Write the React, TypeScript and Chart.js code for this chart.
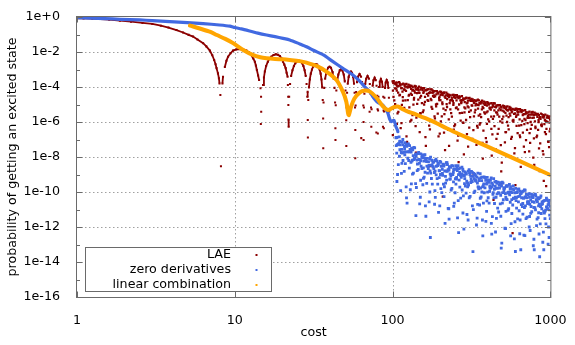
import React, { useEffect, useRef } from 'react';
import { Chart, registerables } from 'chart.js';

Chart.register(...registerables);

// ---------- axes ----------
const xTickValues = [1, 10, 100, 1000];
const xTickLabels = ['1', '10', '100', '1000'];
const yTickValues = [1, 1e-2, 1e-4, 1e-6, 1e-8, 1e-10, 1e-12, 1e-14, 1e-16];
const yTickLabels = ['1e+0', '1e-2', '1e-4', '1e-6', '1e-8', '1e-10', '1e-12', '1e-14', '1e-16'];
const yMinorTickValues = [1e-1, 1e-3, 1e-5, 1e-7, 1e-9, 1e-11, 1e-13, 1e-15];

const seriesNames = ['LAE', 'zero derivatives', 'linear combination'];
const xTitle = 'cost';
const yTitle = 'probability of getting an excited state';

// ---------- LAE ----------
const laeLobes: [number, number][] = [
  [1, 0.85], [1.1, 0.83], [1.25, 0.8], [1.4, 0.76], [1.6, 0.7], [1.87, 0.62], [2.2, 0.54], [2.6, 0.46],
  [3.0, 0.4], [3.4, 0.32], [3.8, 0.25], [4.27, 0.18], [4.7, 0.13], [5.1, 0.095], [5.44, 0.076], [5.8, 0.052],
  [6.3, 0.032], [6.6, 0.021], [6.95, 0.012], [7.2, 0.0065], [7.4, 0.0035], [7.55, 0.002], [7.66, 0.0012],
  [7.82, 6e-4], [7.93, 3.2e-4], [8.0, 1.6e-4], [8.1, 3.5e-5], [8.17, 3e-9], [8.35, 1.6e-4], [8.42, 3.9e-4],
  [8.65, 1.4e-3], [8.85, 3.2e-3], [9.06, 5.4e-3], [9.4, 8.5e-3], [9.75, 0.012], [10.2, 0.014], [10.75, 0.0148],
  [11.3, 0.014], [11.85, 0.012], [12.3, 0.0095], [12.7, 0.0068], [13.1, 0.0042], [13.4, 0.0028], [13.6, 1.7e-3],
  [13.8, 9.3e-4], [14.05, 4.6e-4], [14.25, 2.5e-4], [14.55, 8.5e-5], [14.62, 7.7e-7], [14.67, 2.8e-5], [14.7, 3.9e-6],
  [15.1, 1.3e-4], [15.3, 3.5e-4], [15.5, 7.6e-4], [15.8, 1.6e-3], [16.2, 2.8e-3], [16.6, 4.2e-3], [17.0, 5.4e-3],
  [17.6, 6.7e-3], [18.2, 7.4e-3], [18.8, 6.9e-3], [19.3, 5.9e-3], [19.8, 4.3e-3], [20.2, 2.8e-3], [20.6, 1.9e-3],
  [21.0, 1.2e-3], [21.3, 6.5e-4], [21.6, 3.9e-4], [21.7, 1.3e-4], [21.8, 2.8e-5], [21.85, 9.3e-6], [21.9, 1.4e-6],
  [21.95, 5.4e-7], [22.1, 2.8e-5], [22.4, 1.5e-4], [22.75, 4.3e-4], [23.2, 9.1e-4], [23.7, 1.6e-3], [24.2, 2.3e-3],
  [24.9, 3.0e-3], [25.45, 3.2e-3], [26.0, 3.0e-3], [26.7, 2.3e-3], [27.2, 1.6e-3], [27.7, 9.1e-4], [28.15, 4.3e-4],
  [28.5, 1.5e-4], [28.8, 2.8e-5], [28.95, 5.4e-5], [29.0, 1.3e-6], [29.05, 1.3e-7],
  [29.22, 1.8e-5], [29.51, 9.5e-5], [29.88, 2.7e-4], [30.31, 5.8e-4], [30.83, 1.0e-3], [31.41, 1.5e-3], [32.07, 1.9e-3],
  [32.65, 2.0e-3], [33.23, 1.9e-3], [33.89, 1.5e-3], [34.48, 1.0e-3], [34.99, 5.8e-4], [35.42, 2.7e-4], [35.79, 9.5e-5],
  [36.08, 1.8e-5], [36.3, 1.6e-6], [36.35, 3.2e-8],
  [36.51, 1.3e-5], [36.87, 8.9e-5], [37.37, 3.0e-4], [38.08, 7.2e-4], [39.0, 1.26e-3], [39.85, 1.45e-3], [40.7, 1.26e-3],
  [41.63, 7.2e-4], [42.34, 3.0e-4], [42.83, 8.9e-5], [43.19, 1.3e-5], [43.4, 4.4e-7], [43.45, 9.3e-8],
  [43.63, 9.1e-6], [44.0, 6.3e-5], [44.53, 2.1e-4], [45.28, 5.1e-4], [46.25, 8.9e-4], [47.15, 1.02e-3], [48.05, 8.9e-4],
  [49.03, 5.1e-4], [49.78, 2.1e-4], [50.3, 6.3e-5], [50.68, 9.1e-6], [50.85, 1.26e-6], [50.9, 4.3e-8],
  [51.11, 6.8e-6], [51.47, 4.7e-5], [51.97, 1.55e-4], [52.68, 3.8e-4], [53.6, 6.6e-4], [54.45, 7.6e-4], [55.3, 6.6e-4],
  [56.23, 3.8e-4], [56.94, 1.55e-4], [57.43, 4.7e-5], [57.79, 6.8e-6], [58.0, 8.5e-9], [58.05, 3.5e-7],
  [58.3, 8.7e-6], [58.75, 5.2e-5], [59.5, 1.9e-4], [60.4, 3.9e-4], [61.75, 5.5e-4], [63.1, 3.9e-4], [63.3, 1.2e-7],
  [64.0, 1.9e-4], [64.75, 5.2e-5], [65.2, 8.7e-6], [65.45, 1.0e-6], [65.5, 9.3e-8],
  [65.81, 6.8e-6], [66.28, 4.1e-5], [67.06, 1.5e-4], [68.0, 3.0e-4], [69.4, 4.3e-4], [70.8, 3.0e-4], [71.5, 3.9e-6],
  [71.74, 1.5e-4], [72.52, 4.1e-5], [72.99, 6.8e-6], [73.3, 5.4e-7],
  [73.59, 5.4e-6], [74.03, 3.2e-5], [74.76, 1.17e-4], [75.64, 2.4e-4], [76.95, 3.4e-4], [78.26, 2.4e-4], [78.9, 2.5e-7],
  [79.14, 1.17e-4], [79.87, 3.2e-5], [80.31, 5.4e-6], [80.6, 2.2e-7],
  [80.9, 4.6e-6], [81.34, 2.8e-5], [82.08, 1.0e-4], [82.97, 2.0e-4], [84.3, 2.9e-4], [85.63, 2.0e-4], [86.52, 1.0e-4],
  [86.9, 5.4e-7], [87.26, 2.8e-5], [87.7, 4.6e-6], [88.0, 4.4e-7],
  [88.3, 4.0e-6], [88.75, 2.4e-5], [89.5, 8.7e-5], [90.4, 1.8e-4], [91.75, 2.5e-4], [93.1, 1.8e-4], [94.0, 8.7e-5],
  [94.75, 2.4e-5], [95.2, 4.0e-6],
];

const laeScatter: [number, number][] = [
  [100, 2.1e-4], [100.5, 6.3e-5], [99.5, 5.6e-6], [100.4, 1.8e-7],
  [102, 1.6e-4], [102.5, 1.7e-5], [105, 1.8e-4], [105.5, 8.1e-5],
  [107, 1.1e-4], [107.5, 3.1e-6], [106.5, 7.8e-7], [110, 1.9e-4], [110.5, 3.3e-5],
  [112, 1.2e-4], [112.5, 4.5e-7], [115, 1.4e-4], [115.5, 5.4e-5], [114.5, 9.5e-6],
  [118, 7.2e-5], [118.5, 6.5e-6], [120, 1.4e-4], [120.5, 1.7e-5],
  [123, 1.05e-4], [123.5, 7.4e-8], [122.5, 1.5e-7], [126, 1.35e-4], [126.5, 3.2e-5],
  [129, 1.0e-4], [129.5, 1.07e-6], [132, 1.15e-4], [132.5, 3.6e-5], [131.5, 1.3e-6],
  [135, 6.9e-5], [135.5, 9.8e-6], [138, 1.17e-4], [138.5, 4.7e-5],
  [141, 7.4e-5], [141.5, 1.8e-6], [140.5, 1.8e-8], [145, 8.9e-5], [145.5, 1.9e-5],
  [148, 4.6e-5], [148.5, 2.6e-7], [151, 9.1e-5], [151.5, 3.1e-5], [150.5, 3.1e-6],
  [155, 6.6e-5], [155.5, 3.7e-6], [158, 8.5e-5], [158.5, 1.0e-5],
  [162, 6.5e-5], [162.5, 4.3e-8], [161.5, 1.35e-7], [166, 7.2e-5], [166.5, 1.8e-5],
  [170, 4.4e-5], [170.5, 6.2e-7], [174, 7.4e-5], [174.5, 2.1e-5], [173.5, 3.0e-9],
  [178, 4.7e-5], [178.5, 5.6e-6], [182, 5.6e-5], [182.5, 2.7e-5],
  [186, 2.9e-5], [186.5, 1.0e-6], [185.5, 1.6e-6], [191, 5.8e-5], [191.5, 1.1e-5],
  [195, 4.2e-5], [195.5, 1.5e-7], [200, 5.4e-5], [201, 1.8e-5], [199, 2.2e-7],
  [204, 4.1e-5], [205, 2.1e-6], [208, 5.4e-11], [209, 4.6e-5], [210, 5.8e-6],
  [214, 2.8e-5], [215, 2.5e-8], [213, 2.8e-6], [219, 4.7e-5], [220, 1.05e-5],
  [224, 3.0e-5], [225, 3.5e-7], [229, 3.5e-5], [230, 1.2e-5], [228, 4.3e-8],
  [234, 1.8e-5], [235, 3.2e-6], [240, 3.6e-5], [241, 1.55e-5],
  [245, 2.6e-5], [246, 5.9e-7], [244, 3.7e-7], [251, 3.4e-5], [252, 6.3e-6],
  [257, 2.6e-5], [258, 8.5e-8], [263, 2.9e-5], [264, 1.0e-5], [262, 5.1e-9],
  [269, 1.7e-5], [270, 1.2e-6], [275, 3.0e-5], [276, 3.3e-6],
  [282, 1.9e-5], [283, 1.4e-8], [281, 8.9e-7], [288, 2.2e-5], [289, 6.0e-6],
  [295, 1.15e-5], [296, 2.0e-7], [302, 2.3e-5], [303, 6.9e-6], [301, 3.9e-8],
  [309, 1.7e-5], [310, 1.9e-6], [316, 2.1e-5], [317, 8.9e-6],
  [324, 1.6e-5], [325, 3.4e-7], [323, 8.5e-10], [331, 1.8e-5], [332, 3.6e-6],
  [339, 1.1e-5], [340, 4.9e-8], [347, 1.9e-5], [348, 5.9e-6], [346, 4.7e-7],
  [355, 1.2e-5], [356, 7.1e-7], [363, 1.4e-5], [364, 1.9e-6],
  [372, 7.2e-6], [373, 8.1e-9], [371, 6.5e-8], [380, 1.45e-5], [381, 3.5e-6],
  [389, 1.05e-5], [390, 1.2e-7], [398, 1.35e-5], [400, 4.0e-6], [396, 7.9e-7],
  [407, 1.0e-5], [409, 1.07e-6], [417, 1.15e-5], [419, 5.1e-6],
  [427, 6.9e-6], [429, 1.95e-7], [425, 1.2e-8], [437, 1.2e-5], [439, 2.1e-6], [436, 3.5e-11],
  [447, 7.4e-6], [449, 2.8e-8], [457, 8.9e-6], [459, 3.4e-6], [455, 1.07e-7],
  [468, 4.6e-6], [470, 4.1e-7], [479, 9.1e-6], [481, 1.1e-6],
  [490, 6.6e-6], [492, 4.7e-9], [488, 1.5e-9], [495, 3.2e-10], [501, 8.5e-6], [503, 2.0e-6],
  [513, 6.5e-6], [515, 6.8e-8], [525, 7.2e-6], [527, 2.3e-6], [523, 2.6e-7],
  [537, 4.4e-6], [539, 6.2e-7], [550, 7.4e-6], [552, 3.0e-6],
  [562, 4.7e-6], [564, 1.1e-7], [560, 1.1e-8], [575, 5.6e-6], [577, 1.2e-6], [576, 4.4e-13],
  [589, 2.9e-6], [591, 1.6e-8], [603, 5.8e-6], [606, 1.95e-6], [600, 2.5e-10],
  [617, 4.2e-6], [620, 2.3e-7], [631, 5.4e-6], [634, 6.3e-7],
  [646, 4.1e-6], [649, 2.7e-9], [643, 1.35e-7], [661, 4.6e-6], [664, 1.15e-6],
  [676, 2.8e-6], [679, 3.9e-8], [692, 4.7e-6], [695, 1.3e-6], [689, 1.9e-8],
  [708, 3.0e-6], [711, 3.5e-7], [724, 3.5e-6], [727, 1.7e-6],
  [741, 1.8e-6], [744, 6.5e-8], [738, 2.3e-7], [759, 3.6e-6], [762, 6.9e-7],
  [776, 2.6e-6], [779, 9.3e-9], [794, 3.4e-6], [798, 1.1e-6], [790, 3.5e-9],
  [813, 2.6e-6], [817, 1.35e-7], [832, 2.9e-6], [836, 3.6e-7],
  [851, 1.7e-6], [855, 1.55e-9], [847, 3.1e-8], [871, 3.0e-6], [875, 6.6e-7],
  [891, 1.9e-6], [895, 2.2e-8], [912, 2.2e-6], [916, 7.6e-7], [908, 4.3e-10],
  [933, 1.15e-6], [937, 2.0e-7], [940, 2.2e-10], [955, 2.3e-6], [959, 9.8e-7],
  [977, 1.7e-6], [981, 3.7e-8], [973, 7.4e-8], [1000, 2.1e-6], [998, 4.0e-7],
];

const laeScatterDense: [number, number][] = [
  [101, 1.74e-4], [101.3, 2.75e-5], [103.5, 8.3e-5], [103.8, 1.05e-5], [106, 1.26e-4], [106.3, 6.3e-5],
  [108.4, 4.8e-5], [108.7, 3.8e-6], [111, 1.6e-4], [111.3, 3.6e-5], [113.5, 8.7e-5], [113.8, 8.7e-7],
  [116, 2.6e-5], [116.3, 1.66e-5], [119, 1.26e-4], [119.3, 7.1e-5], [121.6, 6.0e-5], [121.9, 4.8e-6],
  [124.5, 9.1e-5], [124.8, 1.8e-5], [127.4, 3.5e-5], [127.7, 6.9e-6], [130.3, 1.17e-4], [130.6, 4.2e-5],
  [133.4, 6.3e-5], [133.7, 2.5e-6], [136.5, 1.9e-5], [136.8, 2.4e-5], [139.6, 9.1e-5], [139.9, 5.8e-7],
  [142.9, 4.4e-5], [143.2, 1.1e-5], [146.2, 6.6e-5], [146.5, 4.7e-5], [149.6, 2.5e-5], [149.9, 3.2e-6],
  [153.1, 8.5e-5], [153.4, 1.2e-5], [156.7, 4.6e-5], [157, 4.6e-6], [160.3, 1.4e-5], [160.6, 2.75e-5],
  [164, 6.6e-5], [164.4, 1.66e-6], [168, 3.2e-5], [168.4, 1.6e-5], [172, 4.8e-5], [172.4, 3.8e-7],
  [176, 1.8e-5], [176.4, 7.2e-6], [180, 6.2e-5], [180.4, 3.1e-5], [184, 3.3e-5], [184.4, 2.1e-6],
  [188.4, 1.0e-5], [188.8, 7.9e-6], [192.8, 4.8e-5], [193.2, 3.0e-6], [197.2, 2.3e-5], [197.6, 1.8e-5],
  [201.8, 3.5e-5], [202.2, 1.1e-6], [206.5, 1.3e-5], [207, 1.05e-5], [211.3, 4.5e-5], [211.8, 2.5e-7],
  [216.3, 2.4e-5], [216.8, 4.8e-6], [221.3, 7.2e-6], [221.8, 2.0e-5], [226.5, 3.5e-5], [227, 1.4e-6],
  [231.7, 1.66e-5], [232.2, 5.2e-6], [237.1, 2.5e-5], [237.6, 2.0e-6], [242.7, 9.5e-6], [243.2, 1.2e-5],
  [248.3, 3.2e-5], [248.8, 7.2e-7], [254.1, 1.74e-5], [254.6, 6.9e-6], [260, 5.2e-6], [260.5, 1.66e-7],
  [266.1, 2.5e-5], [266.6, 3.2e-6], [272.3, 1.2e-5], [272.8, 1.35e-5], [278.6, 1.8e-5], [279.1, 9.1e-7],
  [285.1, 6.9e-6], [285.6, 3.5e-6], [291.7, 2.3e-5], [292.2, 1.3e-6], [298.5, 1.26e-5], [299, 7.9e-6],
  [305.5, 3.8e-6], [306, 4.8e-7], [312.6, 1.8e-5], [313.1, 4.6e-6], [319.9, 8.7e-6], [320.4, 1.1e-7],
  [327.3, 1.3e-5], [327.8, 2.1e-6], [335, 5.0e-6], [335.5, 8.9e-6], [342.8, 1.7e-5], [343.3, 6.0e-7],
  [350.8, 9.1e-6], [351.3, 2.3e-6], [358.9, 2.75e-6], [359.4, 8.7e-7], [367.3, 1.3e-5], [367.8, 5.2e-6],
  [375.8, 6.3e-6], [376.3, 3.2e-7], [384.6, 9.5e-6], [385.1, 3.0e-6], [393.6, 3.6e-6], [394.1, 7.2e-8],
  [402.7, 1.23e-5], [403.5, 1.4e-6], [412.1, 6.6e-6], [412.9, 5.9e-6], [421.7, 2.0e-6], [422.5, 4.0e-7],
  [431.5, 9.5e-6], [432.3, 1.5e-6], [441.6, 4.6e-6], [442.4, 5.8e-7], [451.9, 6.9e-6], [452.7, 3.5e-6],
  [462.4, 2.6e-6], [463.2, 2.1e-7], [473.2, 8.9e-6], [474, 2.0e-6], [484.2, 4.8e-6], [485, 4.8e-8],
  [495.5, 1.45e-6], [496.3, 9.1e-7], [507, 6.9e-6], [507.8, 3.9e-6], [518.8, 3.3e-6], [519.6, 2.6e-7],
  [530.9, 5.0e-6], [531.7, 1.0e-6], [543.3, 1.9e-6], [544.1, 3.8e-7], [555.9, 6.5e-6], [556.7, 2.3e-6],
  [568.9, 3.5e-6], [569.7, 1.4e-7], [582.1, 1.05e-6], [582.9, 1.3e-6], [595.7, 5.0e-6], [596.5, 3.2e-8],
  [609.5, 2.4e-6], [610.5, 6.0e-7], [623.7, 3.6e-6], [624.7, 2.6e-6], [638.3, 1.4e-6], [639.3, 1.74e-7],
  [653.1, 4.7e-6], [654.1, 6.6e-7], [668.3, 2.5e-6], [669.3, 2.5e-7], [683.9, 7.6e-7], [684.9, 1.5e-6],
  [699.8, 3.6e-6], [700.8, 9.1e-8], [716.1, 1.74e-6], [717.1, 8.7e-7], [732.8, 2.6e-6], [733.8, 2.1e-8],
  [749.9, 1.0e-6], [750.9, 4.0e-7], [767.4, 3.4e-6], [768.4, 1.7e-6], [785.2, 1.8e-6], [786.2, 1.15e-7],
  [803.5, 5.5e-7], [804.5, 4.4e-7], [822.2, 2.6e-6], [823.2, 1.66e-7], [841.4, 1.26e-6], [842.4, 1.0e-6],
  [861, 1.9e-6], [862, 6.0e-8], [881, 7.2e-7], [882, 5.8e-7], [901.6, 2.45e-6], [902.6, 1.4e-8],
  [922.6, 1.3e-6], [923.6, 2.6e-7], [944, 4.0e-7], [945, 1.1e-6], [966, 1.9e-6], [967, 7.6e-8],
  [988.6, 9.1e-7], [989.6, 2.9e-7],
];

const laeScatterTop: [number, number][] = [
  [101.7, 2.16e-4], [104.1, 1.46e-4], [106.5, 1.76e-4], [109.1, 1.14e-4], [111.6, 1.43e-4], [114.2, 8.6e-5],
  [116.8, 1.57e-4], [119.5, 1.04e-4], [122.3, 1.5e-4], [125.2, 1.01e-4], [128.1, 1.22e-4], [131.1, 7.9e-5],
  [134.1, 9.9e-5], [137.3, 6.0e-5], [140.4, 1.08e-4], [143.7, 7.2e-5], [147, 1.04e-4], [150.5, 7.0e-5],
  [154, 8.4e-5], [157.6, 5.4e-5], [161.3, 6.8e-5], [165, 4.1e-5], [168.9, 7.5e-5], [172.8, 5.0e-5],
  [176.8, 7.2e-5], [180.9, 4.8e-5], [185.2, 5.8e-5], [189.5, 3.8e-5], [193.9, 4.7e-5], [198.4, 2.85e-5],
  [203, 5.2e-5], [207.7, 3.4e-5], [212.5, 5.0e-5], [217.5, 3.35e-5], [222.6, 4.0e-5], [227.8, 2.6e-5],
  [233.1, 3.3e-5], [238.5, 1.97e-5], [244.1, 3.6e-5], [249.8, 2.37e-5], [255.6, 3.4e-5], [261.5, 2.3e-5],
  [267.6, 2.8e-5], [273.9, 1.8e-5], [280.2, 2.26e-5], [286.7, 1.36e-5], [293.4, 2.48e-5], [300.3, 1.64e-5],
  [307.3, 2.37e-5], [314.4, 1.6e-5], [321.7, 1.93e-5], [329.2, 1.24e-5], [336.9, 1.57e-5], [344.7, 9.4e-6],
  [352.7, 1.72e-5], [361, 1.14e-5], [369.4, 1.64e-5], [378, 1.11e-5], [386.8, 1.33e-5], [395.8, 8.6e-6],
  [405, 1.08e-5], [414.5, 6.5e-6], [424.2, 1.19e-5], [434, 7.9e-6], [444.1, 1.14e-5], [454.5, 7.7e-6],
  [465.1, 9.2e-6], [475.9, 6.0e-6], [486.9, 7.5e-6], [498.3, 4.5e-6], [509.9, 8.2e-6], [521.8, 5.4e-6],
  [533.9, 7.9e-6], [546.3, 5.3e-6], [559.1, 6.4e-6], [572.1, 4.1e-6], [585.4, 5.2e-6], [599, 3.1e-6],
  [613.1, 5.7e-6], [627.3, 3.8e-6], [642, 5.4e-6], [656.9, 3.7e-6], [672.2, 4.4e-6], [687.9, 2.85e-6],
  [703.8, 3.6e-6], [720.2, 2.16e-6], [737, 3.9e-6], [754.2, 2.6e-6], [771.8, 3.8e-6], [789.7, 2.54e-6],
  [808.1, 3.05e-6], [826.9, 1.97e-6], [846.3, 2.48e-6], [866, 1.5e-6], [886.1, 2.72e-6], [906.8, 1.8e-6],
  [927.9, 2.6e-6], [949.5, 1.76e-6], [971.6, 2.1e-6], [994.2, 1.36e-6],
];

// ---------- zero derivatives ----------
const zeroDerivCurve: [number, number][] = [
  [1, 0.93], [1.5, 0.81], [1.87, 0.74], [2.5, 0.68], [3, 0.62], [3.87, 0.54], [5, 0.48], [6.3, 0.42],
  [8, 0.35], [9.3, 0.3], [10, 0.25], [11, 0.21], [12.4, 0.16], [14, 0.12], [15.9, 0.093], [18, 0.075],
  [20.2, 0.06], [22.3, 0.049], [25.8, 0.029], [28.5, 0.02], [32, 0.0117], [36.4, 6.8e-3], [41.9, 2.8e-3],
  [48.4, 1.17e-3], [56, 4.9e-4], [61.8, 2.2e-4], [66.5, 1.05e-4], [71.5, 5.4e-5], [75, 2.8e-5], [80, 1.4e-5],
  [87, 8.9e-6], [93, 3.5e-6], [96, 1.4e-6], [98, 1.05e-6], [102, 1.26e-6], [105, 5.4e-7], [108, 2.8e-7],
];

const zeroDerivScatter: [number, number][] = [
  [105, 1.26e-7], [105.5, 4.5e-8], [107, 5.0e-8], [107.5, 1.0e-9], [106.5, 4.0e-10],
  [110, 1.4e-7], [110.5, 1.1e-8], [112, 4.9e-8], [112.5, 1.2e-10],
  [115, 6.8e-8], [115.5, 1.7e-8], [114.5, 4.3e-9], [118, 1.9e-8], [118.5, 1.5e-9],
  [120, 6.6e-8], [120.5, 4.2e-9], [123, 4.1e-8], [123.5, 2.3e-11], [122.5, 4.6e-11],
  [126, 5.6e-8], [126.5, 6.3e-9], [129, 2.7e-8], [129.5, 1.35e-10],
  [132, 3.2e-8], [132.5, 5.8e-9], [131.5, 2.9e-10], [135, 1.2e-8], [135.5, 1.2e-9],
  [138, 3.3e-8], [138.5, 8.3e-9], [141, 1.1e-8], [141.5, 1.8e-10], [140.5, 4.5e-12],
  [145, 1.55e-8], [145.5, 1.95e-9], [148, 4.3e-9], [148.5, 2.1e-11],
  [151, 1.5e-8], [151.5, 3.0e-9], [150.5, 4.7e-10], [155, 9.1e-9], [155.5, 2.6e-10],
  [158, 1.26e-8], [158.5, 7.1e-10], [162, 6.5e-9], [162.5, 4.1e-12], [161.5, 1.6e-11],
  [166, 8.3e-9], [166.5, 1.2e-9], [170, 3.4e-9], [170.5, 2.7e-11],
  [174, 9.8e-9], [174.5, 1.2e-9], [173.5, 2.5e-13], [178, 3.5e-9], [178.5, 2.8e-10],
  [182, 5.2e-9], [182.5, 2.1e-9], [186, 1.55e-9], [186.5, 4.9e-11], [185.5, 1.2e-10],
  [191, 5.8e-9], [191.5, 5.8e-10], [195, 3.8e-9], [195.5, 6.8e-12],
  [200, 5.6e-9], [201, 1.0e-9], [199, 1.6e-11], [204, 3.0e-9], [205, 9.3e-11],
  [209, 3.9e-9], [210, 2.8e-10], [214, 1.6e-9], [215, 1.6e-12], [213, 2.0e-10],
  [219, 4.8e-9], [220, 4.8e-10], [224, 1.8e-9], [225, 1.15e-11],
  [229, 2.8e-9], [230, 5.5e-10], [228, 2.8e-12], [234, 8.1e-10], [235, 1.3e-10],
  [240, 3.1e-9], [241, 9.8e-10], [245, 2.1e-9], [246, 2.3e-11], [244, 1.5e-11],
  [251, 3.2e-9], [252, 2.8e-10], [257, 1.7e-9], [258, 3.3e-12],
  [263, 2.1e-9], [264, 4.8e-10], [262, 4.8e-13], [269, 8.9e-10], [270, 4.5e-11],
  [275, 2.6e-9], [276, 1.3e-10], [282, 9.5e-10], [283, 7.6e-13], [281, 6.0e-11],
  [288, 1.4e-9], [289, 2.2e-10], [295, 4.2e-10], [296, 5.2e-12],
  [302, 1.55e-9], [303, 2.5e-10], [301, 2.5e-12], [309, 1.0e-9], [310, 5.6e-11],
  [316, 1.5e-9], [317, 4.2e-10], [324, 7.8e-10], [325, 9.8e-12], [323, 3.9e-14],
  [331, 1.0e-9], [332, 1.1e-10], [339, 4.2e-10], [340, 1.3e-12],
  [347, 1.2e-9], [348, 1.95e-10], [346, 1.95e-11], [355, 4.5e-10], [356, 1.8e-11],
  [363, 6.6e-10], [364, 5.2e-11], [372, 1.95e-10], [373, 3.1e-13], [371, 2.5e-12],
  [380, 7.2e-10], [381, 9.1e-11], [389, 4.7e-10], [390, 2.1e-12],
  [398, 6.9e-10], [400, 9.8e-11], [396, 3.1e-11], [407, 3.6e-10], [409, 2.3e-11],
  [417, 4.7e-10], [419, 1.7e-10], [427, 1.95e-10], [429, 3.9e-12], [425, 3.9e-13],
  [437, 5.8e-10], [439, 4.6e-11], [447, 2.1e-10], [449, 5.2e-13],
  [457, 3.1e-10], [459, 7.8e-11], [455, 3.1e-12], [468, 9.1e-11], [470, 7.2e-12],
  [479, 3.4e-10], [481, 2.1e-11], [490, 2.2e-10], [492, 1.2e-13], [488, 6.2e-14],
  [501, 3.2e-10], [503, 3.6e-11], [513, 1.7e-10], [515, 8.5e-13],
  [525, 2.2e-10], [527, 3.9e-11], [523, 7.8e-12], [537, 9.1e-11], [539, 9.1e-12],
  [550, 2.7e-10], [552, 6.8e-11], [562, 9.8e-11], [564, 1.55e-12], [560, 3.1e-13],
  [575, 1.45e-10], [577, 1.8e-11], [589, 4.3e-11], [591, 2.1e-13],
  [603, 1.6e-10], [606, 3.2e-11], [600, 4.0e-14], [617, 1.0e-10], [620, 2.9e-12],
  [631, 1.5e-10], [634, 8.5e-12], [646, 7.9e-11], [649, 5.0e-14], [643, 2.5e-12],
  [661, 1.0e-10], [664, 1.45e-11], [676, 4.3e-11], [679, 3.4e-13],
  [692, 1.26e-10], [695, 1.6e-11], [689, 3.2e-13], [708, 4.6e-11], [711, 3.6e-12],
  [724, 6.8e-11], [727, 2.7e-11], [741, 2.0e-11], [744, 6.3e-13], [738, 4.0e-12],
  [759, 7.4e-11], [762, 7.4e-12], [776, 4.8e-11], [779, 8.5e-14],
  [794, 7.1e-11], [798, 1.26e-11], [790, 5.0e-14], [813, 3.7e-11], [817, 1.2e-12],
  [832, 4.8e-11], [836, 3.4e-12], [851, 2.0e-11], [855, 2.0e-14], [847, 4.0e-13],
  [871, 5.9e-11], [875, 5.9e-12], [891, 2.1e-11], [895, 1.35e-13],
  [912, 3.2e-11], [916, 6.3e-12], [908, 5.0e-14], [933, 9.3e-12], [937, 1.5e-12],
  [955, 3.5e-11], [959, 1.1e-11], [977, 2.2e-11], [981, 2.5e-13], [973, 1.0e-12],
  [1000, 3.3e-11], [998, 3.0e-12],
];

const zeroDerivScatterDense: [number, number][] = [
  [105.9, 1.3e-7], [106.2, 1.66e-8], [108.4, 5.2e-8], [108.7, 3.7e-9], [110.9, 7.4e-8], [111.2, 2.6e-8],
  [113.5, 1.8e-8], [113.8, 1.15e-9], [116.1, 1.0e-7], [116.4, 6.3e-9], [118.9, 4.0e-8], [119.2, 2.8e-8],
  [121.6, 1.95e-8], [121.9, 1.95e-10], [124.5, 5.4e-8], [124.8, 8.5e-9], [127.4, 2.0e-8], [127.7, 2.3e-9],
  [130.3, 2.75e-8], [130.6, 4.9e-9], [133.4, 6.6e-9], [133.7, 1.05e-9], [136.5, 3.5e-8], [136.8, 7.1e-9],
  [139.6, 1.35e-8], [139.9, 3.0e-10], [142.9, 6.6e-9], [143.2, 1.66e-9], [146.2, 1.8e-8], [146.5, 7.2e-9],
  [149.6, 7.1e-9], [149.9, 5.0e-11], [153.1, 9.8e-9], [153.4, 2.2e-9], [156.7, 2.4e-9], [157, 6.0e-10],
  [160.3, 1.35e-8], [160.6, 1.35e-9], [164.1, 5.5e-9], [164.5, 3.1e-10], [167.9, 2.8e-9], [168.3, 2.2e-9],
  [171.8, 8.1e-9], [172.2, 1.0e-10], [175.8, 3.3e-9], [176.2, 5.9e-10], [179.9, 4.9e-9], [180.3, 2.75e-9],
  [184.1, 1.3e-9], [184.5, 2.0e-11], [188.4, 7.6e-9], [188.8, 9.5e-10], [192.8, 3.2e-9], [193.2, 2.8e-10],
  [197.2, 1.66e-9], [197.6, 6.6e-10], [201.8, 4.9e-9], [202.3, 1.55e-10], [206.5, 2.0e-9], [207, 1.15e-9],
  [211.3, 3.0e-9], [211.8, 5.4e-11], [216.3, 7.9e-10], [216.8, 3.2e-10], [221.3, 4.7e-9], [221.8, 1.5e-9],
  [226.5, 2.0e-9], [227, 1.1e-11], [231.7, 1.07e-9], [232.2, 5.4e-10], [237.1, 3.2e-9], [237.6, 1.6e-10],
  [242.7, 1.35e-9], [243.2, 3.8e-10], [248.3, 2.0e-9], [248.8, 9.1e-11], [254.1, 5.4e-10], [254.6, 6.8e-10],
  [260, 3.2e-9], [260.5, 3.2e-11], [266.1, 1.3e-9], [266.6, 1.9e-10], [272.3, 6.8e-10], [272.8, 8.5e-10],
  [278.6, 2.0e-9], [279.1, 6.3e-12], [285.1, 8.3e-10], [285.6, 3.0e-10], [291.7, 1.23e-9], [292.2, 8.7e-11],
  [298.5, 3.2e-10], [299, 2.0e-10], [305.5, 1.9e-9], [306, 4.7e-11], [312.6, 7.8e-10], [313.1, 3.5e-10],
  [319.9, 4.0e-10], [320.4, 1.6e-11], [327.3, 1.17e-9], [327.8, 9.3e-11], [335, 4.9e-10], [335.5, 4.4e-10],
  [342.8, 7.1e-10], [343.3, 3.2e-12], [350.8, 1.9e-10], [351.3, 1.5e-10], [358.9, 1.1e-9], [359.4, 4.4e-11],
  [367.3, 4.5e-10], [367.8, 1.0e-10], [375.8, 2.3e-10], [376.3, 2.3e-11], [384.6, 6.9e-10], [385.1, 1.74e-10],
  [393.6, 2.8e-10], [394.1, 7.9e-12], [402.7, 4.2e-10], [403.5, 4.7e-11], [412.1, 1.1e-10], [412.9, 2.2e-10],
  [421.7, 6.3e-10], [422.5, 1.6e-12], [431.5, 2.6e-10], [432.3, 7.4e-11], [441.6, 1.4e-10], [442.4, 2.2e-11],
  [451.9, 4.0e-10], [452.7, 5.0e-11], [462.4, 1.66e-10], [463.2, 1.2e-11], [473.2, 2.5e-10], [474, 8.7e-11],
  [484.2, 6.5e-11], [485, 4.1e-12], [495.5, 3.7e-10], [496.3, 2.3e-11], [507, 1.55e-10], [507.8, 1.1e-10],
  [518.8, 8.1e-11], [519.6, 8.1e-13], [530.9, 2.3e-10], [531.7, 3.7e-11], [543.3, 9.8e-11], [544.1, 1.1e-11],
  [555.9, 1.45e-10], [556.7, 2.6e-11], [568.9, 3.7e-11], [569.7, 5.9e-12], [582.1, 2.2e-10], [582.9, 4.4e-11],
  [595.7, 9.1e-11], [596.5, 2.0e-12], [609.5, 4.8e-11], [610.5, 1.2e-11], [623.7, 1.4e-10], [624.7, 5.5e-11],
  [638.3, 5.8e-11], [639.3, 4.1e-13], [653.1, 8.5e-11], [654.1, 1.9e-11], [668.3, 2.2e-11], [669.3, 5.5e-12],
  [683.9, 1.3e-10], [684.9, 1.3e-11], [699.8, 5.4e-11], [700.8, 3.0e-12], [716.1, 2.75e-11], [717.1, 2.2e-11],
  [732.8, 8.1e-11], [733.8, 1.0e-12], [749.9, 3.4e-11], [750.9, 6.0e-12], [767.4, 5.0e-11], [768.4, 2.8e-11],
  [785.2, 1.3e-11], [786.2, 2.0e-13], [803.5, 7.6e-11], [804.5, 9.5e-12], [822.2, 3.2e-11], [823.2, 2.8e-12],
  [841.4, 1.6e-11], [842.4, 6.5e-12], [861, 4.8e-11], [862, 1.5e-12], [881, 2.0e-11], [882, 1.1e-11],
  [901.6, 2.9e-11], [902.6, 5.1e-13], [922.6, 7.6e-12], [923.6, 3.0e-12], [944, 4.5e-11], [945, 1.4e-11],
  [966, 1.9e-11], [967, 1.05e-13], [988.6, 9.5e-12], [989.6, 4.8e-12],
];

const zeroDerivScatterTop: [number, number][] = [
  [106.5, 1.29e-7], [109, 5.8e-8], [111.5, 8.1e-8], [114.1, 2.75e-8], [116.8, 4.9e-8], [119.5, 1.35e-8],
  [122.3, 5.2e-8], [125.2, 2.0e-8], [128.1, 4.5e-8], [131.1, 1.9e-8], [134.1, 2.6e-8], [137.3, 8.7e-9],
  [140.4, 1.48e-8], [143.7, 4.0e-9], [147, 1.55e-8], [150.5, 6.0e-9], [154, 1.32e-8], [157.6, 5.8e-9],
  [161.3, 8.3e-9], [165, 3.0e-9], [168.9, 5.5e-9], [172.8, 1.58e-9], [176.8, 6.5e-9], [180.9, 2.7e-9],
  [185.2, 6.3e-9], [189.5, 2.95e-9], [193.9, 4.4e-9], [198.4, 1.62e-9], [203, 3.0e-9], [207.7, 8.9e-10],
  [212.5, 3.7e-9], [217.5, 1.55e-9], [222.6, 3.7e-9], [227.8, 1.78e-9], [233.1, 2.6e-9], [238.5, 1.0e-9],
  [244.1, 1.9e-9], [249.8, 5.8e-10], [255.6, 2.4e-9], [261.5, 9.8e-10], [267.6, 2.3e-9], [273.9, 1.07e-9],
  [280.2, 1.55e-9], [286.7, 5.8e-10], [293.4, 1.07e-9], [300.3, 3.2e-10], [307.3, 1.29e-9], [314.4, 5.4e-10],
  [321.7, 1.26e-9], [329.2, 5.8e-10], [336.9, 8.5e-10], [344.7, 3.2e-10], [352.7, 5.8e-10], [361, 1.7e-10],
  [369.4, 7.1e-10], [378, 2.9e-10], [386.8, 6.8e-10], [395.8, 3.2e-10], [405, 4.7e-10], [414.5, 1.7e-10],
  [424.2, 3.2e-10], [434, 9.3e-11], [444.1, 3.8e-10], [454.5, 1.6e-10], [465.1, 3.7e-10], [475.9, 1.7e-10],
  [486.9, 2.5e-10], [498.3, 9.3e-11], [509.9, 1.7e-10], [521.8, 5.0e-11], [533.9, 2.1e-10], [546.3, 8.5e-11],
  [559.1, 2.0e-10], [572.1, 9.3e-11], [585.4, 1.35e-10], [599, 5.0e-11], [613.1, 9.3e-11], [627.3, 2.75e-11],
  [642, 1.12e-10], [656.9, 4.7e-11], [672.2, 1.1e-10], [687.9, 5.0e-11], [703.8, 7.4e-11], [720.2, 2.75e-11],
  [737, 5.0e-11], [754.2, 1.48e-11], [771.8, 6.2e-11], [789.7, 2.6e-11], [808.1, 5.9e-11], [826.9, 2.75e-11],
  [846.3, 4.1e-11], [866, 1.48e-11], [886.1, 2.75e-11], [906.8, 8.1e-12], [927.9, 3.3e-11], [949.5, 1.38e-11],
  [971.6, 3.2e-11], [994.2, 1.5e-11],
];

// ---------- linear combination ----------
const linComb: [number, number][] = [
  [5.2, 0.32], [6.0, 0.22], [7.0, 0.14], [7.7, 0.093], [8.7, 0.056], [9.75, 0.032], [11.3, 0.013],
  [13.0, 6.8e-3], [14.5, 5.0e-3], [15.9, 4.4e-3], [18, 4.0e-3], [20.2, 3.8e-3], [22.3, 3.5e-3],
  [25.8, 3.0e-3], [28.5, 2.45e-3], [32.9, 1.6e-3], [38.1, 7.6e-4], [44.1, 2.5e-4], [48.4, 5.4e-5],
  [50.9, 1.45e-5], [52.2, 3.2e-6], [52.8, 2.5e-6], [54.6, 7.6e-6], [57.3, 2.2e-5], [61.8, 4.8e-5],
  [66.5, 6.3e-5], [71.5, 5.6e-5], [78.9, 2.5e-5], [86.9, 7.9e-6], [93.3, 4.9e-6], [100.4, 6.6e-6],
  [107.8, 7.6e-6], [116, 5.4e-6], [125, 3.9e-6], [134, 3.2e-6], [148, 2.2e-6], [163, 1.6e-6],
  [190, 8.5e-7], [220, 4.4e-7], [265, 2.0e-7], [400, 3.9e-8], [650, 5.4e-9], [1000, 9.3e-10],
];

const laeColor = '#8b0000';
const zdColor = '#4169e1';
const lcColor = '#ffa500';
const seriesColors = [laeColor, zdColor, lcColor];
const FONT = "'DejaVu Sans', sans-serif";
const FONT_SIZE = 12.67;

const framePlugin = {
  id: 'gnuplotFrame',
  beforeDatasetsDraw(chart: any) {
    const { ctx, chartArea: a, scales } = chart;
    ctx.save();
    ctx.strokeStyle = '#a0a0a0';
    ctx.lineWidth = 1;
    ctx.setLineDash([1.5, 2.5]);
    for (const v of yTickValues) {
      const y = Math.round(scales.y.getPixelForValue(v)) + 0.5;
      if (y <= a.top + 2 || y >= a.bottom - 2) continue;
      ctx.beginPath(); ctx.moveTo(a.left, y); ctx.lineTo(a.right, y); ctx.stroke();
    }
    for (const v of xTickValues) {
      const x = Math.round(scales.x.getPixelForValue(v)) + 0.5;
      if (x <= a.left + 2 || x >= a.right - 2) continue;
      ctx.beginPath(); ctx.moveTo(x, a.top); ctx.lineTo(x, a.bottom); ctx.stroke();
    }
    ctx.restore();
  },
  afterDatasetsDraw(chart: any) {
    const { ctx, chartArea: a, scales } = chart;
    ctx.save();
    ctx.strokeStyle = '#6a6a6a';
    ctx.lineWidth = 1;
    const L = a.left - 0.5, R = a.right + 0.5, T = a.top - 0.5, B = a.bottom + 0.5;
    ctx.strokeRect(L, T, R - L, B - T);
    ctx.beginPath();
    const yt = (v: number, len: number) => {
      const y = Math.round(scales.y.getPixelForValue(v)) + 0.5;
      ctx.moveTo(L, y); ctx.lineTo(L + len, y);
      ctx.moveTo(R, y); ctx.lineTo(R - len, y);
    };
    yTickValues.forEach((v) => yt(v, 6));
    yMinorTickValues.forEach((v) => yt(v, 3.5));
    xTickValues.forEach((v) => {
      const x = Math.round(scales.x.getPixelForValue(v)) + 0.5;
      ctx.moveTo(x, B); ctx.lineTo(x, B - 6);
      ctx.moveTo(x, T); ctx.lineTo(x, T + 6);
    });
    ctx.stroke();

    // legend box (gnuplot style)
    ctx.fillStyle = '#ffffff';
    ctx.fillRect(85.5, 247.5, 186, 44);
    ctx.strokeRect(85.5, 247.5, 186, 44);
    ctx.font = `${FONT_SIZE}px ${FONT}`;
    ctx.textAlign = 'right';
    ctx.textBaseline = 'middle';
    seriesNames.forEach((name, i) => {
      const y = 255 + 15 * i;
      ctx.fillStyle = '#000';
      ctx.fillText(name, 231, y);
      ctx.fillStyle = seriesColors[i];
      ctx.fillRect(255.5, y - 1, 2, 2);
    });
    ctx.restore();
  },
};

export default function App() {
  const ref = useRef<HTMLCanvasElement>(null);
  useEffect(() => {
    document.body.style.margin = '0';
    const canvas = ref.current;
    if (!canvas) return;
    Chart.defaults.font.family = FONT;
    Chart.defaults.font.size = FONT_SIZE;
    const toPts = (arr: [number, number][]) => arr.map(([x, y]) => ({ x, y }));
    const nLobes = laeLobes.length;
    const nCurve = zeroDerivCurve.length;
    const hidden = 'rgba(0,0,0,0)';

    const chart = new Chart(canvas, {
      type: 'line',
      data: {
        datasets: [
          {
            label: seriesNames[2],
            data: toPts(linComb),
            borderColor: lcColor,
            backgroundColor: lcColor,
            borderWidth: 4,
            pointRadius: 0,
            pointHoverRadius: 0,
            tension: 0.3,
            borderCapStyle: 'round',
            borderJoinStyle: 'round',
            order: 0,
          },
          {
            label: seriesNames[1],
            data: toPts([...zeroDerivCurve, ...zeroDerivScatter, ...zeroDerivScatterDense, ...zeroDerivScatterTop]),
            borderColor: zdColor,
            backgroundColor: zdColor,
            borderWidth: 3.2,
            pointStyle: 'rect',
            pointRadius: (c: any) => (c.dataIndex >= nCurve ? 2.0 : 0),
            pointBorderWidth: 0,
            pointHoverRadius: 0,
            tension: 0.2,
            borderCapStyle: 'round',
            borderJoinStyle: 'round',
            order: 1,
            segment: {
              borderColor: (c: any) => (c.p1DataIndex >= nCurve ? hidden : undefined),
            },
          },
          {
            label: seriesNames[0],
            data: toPts([...laeLobes, ...laeScatter, ...laeScatterDense, ...laeScatterTop]),
            borderColor: laeColor,
            backgroundColor: laeColor,
            borderWidth: 1.8,
            pointStyle: 'rect',
            pointRadius: (c: any) => (c.dataIndex >= nLobes ? 1.6 : 1.45),
            pointBorderWidth: 0,
            pointHoverRadius: 0,
            tension: 0,
            order: 2,
            segment: {
              borderColor: (c: any) =>
                c.p1DataIndex >= nLobes || Math.abs(c.p1.y - c.p0.y) > 8 ? hidden : undefined,
            },
          },
        ],
      },
      options: {
        animation: false,
        responsive: false,
        devicePixelRatio: 1,
        events: [],
        layout: { padding: { left: 0, right: 24, top: 17, bottom: 0 } },
        plugins: { legend: { display: false }, tooltip: { enabled: false } },
        scales: {
          x: {
            type: 'logarithmic',
            min: 1,
            max: 1000,
            afterBuildTicks: (s: any) => {
              s.ticks = xTickValues.map((v) => ({ value: v }));
            },
            afterFit: (s: any) => {
              s.height = 48;
            },
            ticks: {
              autoSkip: false,
              maxRotation: 0,
              padding: 8.5,
              color: '#000',
              font: { size: FONT_SIZE, family: FONT },
              callback: (_v: any, i: number) => xTickLabels[i],
            },
            grid: { display: false },
            border: { display: false },
            title: {
              display: true,
              text: xTitle,
              color: '#000',
              font: { size: FONT_SIZE, family: FONT },
              padding: { top: 0, bottom: 4.5 },
            },
          },
          y: {
            type: 'logarithmic',
            min: 1e-16,
            max: 1,
            afterBuildTicks: (s: any) => {
              s.ticks = yTickValues.map((v) => ({ value: v }));
            },
            afterFit: (s: any) => {
              s.width = 77;
            },
            ticks: {
              autoSkip: false,
              padding: 9,
              color: '#000',
              font: { size: FONT_SIZE, family: FONT },
              callback: (_v: any, i: number) => yTickLabels[i],
            },
            grid: { display: false },
            border: { display: false },
            title: {
              display: true,
              text: yTitle,
              color: '#000',
              font: { size: FONT_SIZE, family: FONT },
              padding: { top: 5, bottom: 0 },
            },
          },
        },
      },
      plugins: [framePlugin],
    } as any);
    return () => chart.destroy();
  }, []);

  return (
    <div style={{ position: 'absolute', left: 0, top: 0, width: 575, height: 345 }}>
      <canvas ref={ref} width={575} height={345} style={{ display: 'block', width: 575, height: 345 }} />
    </div>
  );
}
